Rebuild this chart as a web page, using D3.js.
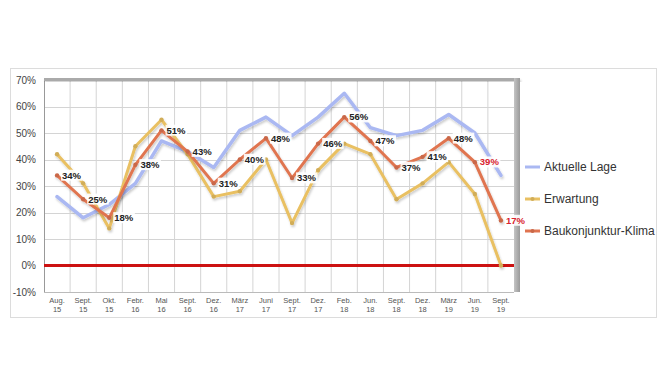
<!DOCTYPE html>
<html>
<head>
<meta charset="utf-8">
<script src="https://cdn.jsdelivr.net/npm/d3@7"></script>
<style>
  body { margin: 0; background: #fff; }
  svg { display: block; font-family: "Liberation Sans", Arial, Helvetica, sans-serif; }
</style>
</head>
<body>
<div id="chart"></div>
<script>
// Quarter labels (two lines each)
const monthLabels = ["Aug.", "Sept.", "Okt.", "Febr.", "Mai", "Sept.", "Dez.", "März", "Juni", "Sept.", "Dez.", "Feb.", "Jun.", "Sept.", "Dez.", "März", "Jun.", "Sept."];
const yearLabels = ["15", "15", "15", "16", "16", "16", "16", "17", "17", "17", "17", "18", "18", "18", "18", "19", "19", "19"];

const aktuelleLage = [26, 18, 23, 31, 47, 43, 37, 51, 56, 49, 56, 65, 52, 49, 51, 57, 50, 34];
const erwartung = [42, 31, 14, 45, 55, 42, 26, 28, 40, 16, 36, 46, 42, 25, 31, 39, 27, 0];
const klima = [34, 25, 18, 38, 51, 43, 31, 40, 48, 33, 46, 56, 47, 37, 41, 48, 39, 17];

const yTicks = [-10, 0, 10, 20, 30, 40, 50, 60, 70];
const legendNames = ["Aktuelle Lage", "Erwartung", "Baukonjunktur-Klima"];

const W = 665, H = 375;
const plot = { left: 44, right: 514, top: 80, bottom: 292 };

const svg = d3.select("#chart").append("svg").attr("width", W).attr("height", H);

const defs = svg.append("defs");
const shadow = defs.append("filter").attr("id", "shadow")
  .attr("x", "-5%").attr("y", "-5%").attr("width", "110%").attr("height", "120%");
shadow.append("feDropShadow").attr("dx", 1).attr("dy", 2).attr("stdDeviation", 1)
  .attr("flood-color", "#000").attr("flood-opacity", 0.2);

const edge = defs.append("linearGradient").attr("id", "edge").attr("x1", 0).attr("x2", 1).attr("y1", 0).attr("y2", 0);
edge.append("stop").attr("offset", "0%").attr("stop-color", "#c4c4c4");
edge.append("stop").attr("offset", "100%").attr("stop-color", "#9a9a9a");

// outer frame
svg.append("rect").attr("x", 10.5).attr("y", 68.5).attr("width", 646).attr("height", 249)
  .attr("fill", "#fff").attr("stroke", "#dcdcdc");

const x = d3.scaleBand().domain(d3.range(monthLabels.length)).range([plot.left, plot.right]);
const cx = i => x(i) + x.bandwidth() / 2;
const y = d3.scaleLinear().domain([-10, 70]).range([plot.bottom, plot.top]);

// grid
svg.append("g").selectAll("line").data(d3.range(1, monthLabels.length)).join("line")
  .attr("x1", i => x(i)).attr("x2", i => x(i))
  .attr("y1", plot.top).attr("y2", plot.bottom)
  .attr("stroke", "#d4d4d4").attr("stroke-width", 1);

svg.append("g").selectAll("line").data(yTicks.filter(t => t < 70)).join("line")
  .attr("x1", plot.left).attr("x2", plot.right)
  .attr("y1", d => Math.round(y(d)) + 0.5).attr("y2", d => Math.round(y(d)) + 0.5)
  .attr("stroke", "#d4d4d4");

// axis frame
svg.append("line").attr("x1", plot.left + 0.5).attr("x2", plot.left + 0.5)
  .attr("y1", plot.top).attr("y2", plot.bottom).attr("stroke", "#999");
svg.append("line").attr("x1", plot.left).attr("x2", plot.right)
  .attr("y1", plot.bottom + 0.5).attr("y2", plot.bottom + 0.5).attr("stroke", "#bbb");

// gray top and right edge
svg.append("rect").attr("x", plot.left).attr("y", plot.top - 2).attr("width", plot.right - plot.left + 6).attr("height", 3)
  .attr("fill", "#aaa").attr("filter", "url(#shadow)");
svg.append("rect").attr("x", plot.right).attr("y", plot.top - 2).attr("width", 6).attr("height", plot.bottom - plot.top + 2)
  .attr("fill", "url(#edge)");

// y axis labels
svg.append("g").call(d3.axisLeft(y).tickValues(yTicks).tickFormat(d => d + "%").tickSize(0).tickPadding(8))
  .attr("transform", `translate(${plot.left},0)`)
  .call(g => g.select(".domain").remove())
  .call(g => g.selectAll("text").attr("font-size", 10).attr("fill", "#444")
    .attr("font-family", "Liberation Sans, Arial, sans-serif"));

// x axis labels
const xl = svg.append("g").selectAll("text").data(monthLabels).join("text")
  .attr("x", (d, i) => cx(i)).attr("y", 303)
  .attr("text-anchor", "middle").attr("font-size", 7.5).attr("fill", "#555");
xl.append("tspan").attr("x", (d, i) => cx(i)).text(d => d);
xl.append("tspan").attr("x", (d, i) => cx(i)).attr("dy", 8.5).text((d, i) => yearLabels[i]);

// zero line
svg.append("line").attr("x1", plot.left).attr("x2", plot.right)
  .attr("y1", y(0)).attr("y2", y(0)).attr("stroke", "#cc1111").attr("stroke-width", 3);

const line = d3.line().x((d, i) => cx(i)).y(d => y(d));

const series = [
  { name: legendNames[0], data: aktuelleLage, color: "#aab8f2", width: 3.5, marker: false },
  { name: legendNames[1], data: erwartung, color: "#e9c062", width: 3, marker: true },
  { name: legendNames[2], data: klima, color: "#e07450", width: 3, marker: true }
];

series.forEach(s => {
  const g = svg.append("g").attr("filter", "url(#shadow)");
  g.append("path").datum(s.data).attr("d", line)
    .attr("fill", "none").attr("stroke", s.color).attr("stroke-width", s.width)
    .attr("stroke-linejoin", "round").attr("stroke-linecap", "round");
  if (s.marker) {
    g.selectAll("circle").data(s.data).join("circle")
      .attr("cx", (d, i) => cx(i)).attr("cy", d => y(d)).attr("r", 2.2)
      .attr("fill", d3.color(s.color).darker(0.3));
  }
});

// data labels for Baukonjunktur-Klima
const lbl = svg.append("g").selectAll("g").data(klima).join("g")
  .attr("transform", (d, i) => `translate(${cx(i) + 5},${y(d)})`);
const bg = lbl.append("rect").attr("fill", "#fff").attr("opacity", 0.9);
lbl.append("text").attr("dy", "0.35em").attr("font-size", 9.5).attr("font-weight", "bold")
  .attr("fill", (d, i) => i >= klima.length - 2 ? "#d9232e" : "#222")
  .text(d => d + "%");
lbl.each(function () {
  const b = d3.select(this).select("text").node().getBBox();
  d3.select(this).select("rect")
    .attr("x", b.x - 1).attr("y", b.y).attr("width", b.width + 2).attr("height", b.height);
});

// legend
const lg = svg.append("g").selectAll("g").data(series).join("g")
  .attr("transform", (d, i) => `translate(525,${167 + i * 32})`);
lg.append("line").attr("x1", 0).attr("x2", 15).attr("stroke", d => d.color).attr("stroke-width", 3);
lg.filter(d => d.marker).append("circle").attr("cx", 7.5).attr("r", 2).attr("fill", d => d3.color(d.color).darker(0.3));
lg.append("text").attr("x", 19).attr("dy", "0.35em").attr("font-size", 12).attr("fill", "#333").text(d => d.name);
</script>
</body>
</html>
